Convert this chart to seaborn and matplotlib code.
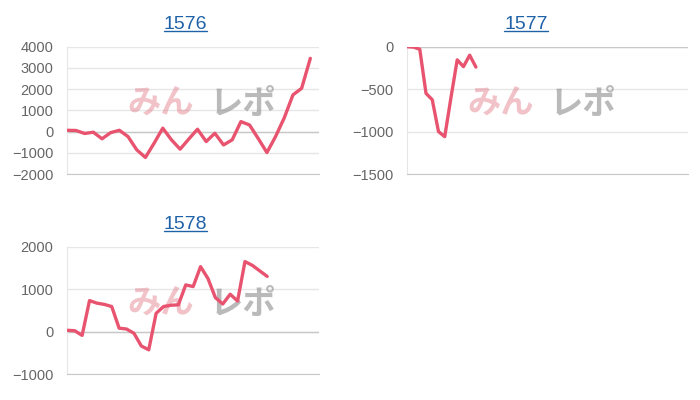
"""Three small profit-curve panels (1576 / 1577 / 1578) with a faint site watermark."""
import matplotlib
matplotlib.use("Agg")  # no display
import matplotlib.pyplot as plt
from matplotlib.lines import Line2D
import pandas as pd
import seaborn as sns

# ── data ────────────────────────────────────────────────────────────────────
TITLES = ["1576", "1577", "1578"]

VALUES_1576 = [60, 50, -90, -30, -340, -50, 60, -240, -860, -1220,
               -550, 160, -390, -830, -350, 110, -470, -80, -630, -390,
               470, 310, -330, -990, -230, 650, 1730, 2040, 3450]
VALUES_1577 = [0, -5, -30, -550, -625, -1000, -1060, -600, -155, -235, -100, -240]
VALUES_1578 = [30, 20, -90, 730, 670, 640, 590, 80, 60, -40,
               -340, -430, 430, 590, 620, 630, 1100, 1060, 1530, 1250,
               800, 650, 880, 720, 1650, 1560, 1430, 1300]

SERIES = [VALUES_1576, VALUES_1577, VALUES_1578]
X_SLOTS = [29, 45, 34]  # width of each category axis (number of x intervals)
Y_LIMITS = [(-2000, 4000), (-1500, 0), (-1000, 2000)]
Y_STEPS = [1000, 500, 1000]

# ── style ───────────────────────────────────────────────────────────────────
W, H = 700, 400
LINE_COLOR = "#e8546f"
GRID_COLOR = "#e6e6e6"
ZERO_COLOR = "#c8c8c8"
TICK_COLOR = "#666666"
TITLE_COLOR = "#1f62a8"

# axes boxes in pixels: left, top, right, bottom
BOXES = [(67.3, 46.7, 319.0, 174.0),
         (407.3, 46.7, 688.0, 174.0),
         (67.3, 246.7, 319.0, 374.0)]
CELL_ORIGINS = [(0, 0), (340, 0), (0, 200)]

sns.set_style("white")
plt.rcParams["font.family"] = ["Liberation Sans", "DejaVu Sans"]

fig = plt.figure(figsize=(W / 100, H / 100), dpi=100)

titles = []
for values, title, slots, (lo, hi), step, box, (cx, cy) in zip(
        SERIES, TITLES, X_SLOTS, Y_LIMITS, Y_STEPS, BOXES, CELL_ORIGINS):
    l, t, r, b = box
    ax = fig.add_axes([l / W, 1 - b / H, (r - l) / W, (b - t) / H])

    df = pd.DataFrame({"idx": range(len(values)), "value": values})
    sns.lineplot(data=df, x="idx", y="value", ax=ax, color=LINE_COLOR,
                 linewidth=2.4, zorder=3)

    ax.set_xlim(0, slots)
    ax.set_ylim(lo, hi)
    ax.set_yticks(range(lo, hi + 1, step))
    ax.set_xticks([])
    ax.set_xlabel("")
    ax.set_ylabel("")
    ax.grid(axis="y", color=GRID_COLOR, linewidth=1)
    ax.axhline(0, color=ZERO_COLOR, linewidth=1, zorder=2)
    ax.tick_params(axis="y", length=0, pad=10, labelsize=10.5, labelcolor=TICK_COLOR)
    for side in ("top", "right"):
        ax.spines[side].set_visible(False)
    ax.spines["left"].set_color(GRID_COLOR)
    ax.spines["bottom"].set_color(ZERO_COLOR)

    # watermark: pink "みん" + grey "レポ"
    ax.text((cx + 161) / W, 1 - (cy + 104) / H, "みん", transform=fig.transFigure,
            ha="center", va="center", fontsize=24, fontweight="bold",
            family=["Noto Sans CJK JP", "DejaVu Sans"], color="#e07a88",
            alpha=0.45, zorder=1, clip_on=False)
    ax.text((cx + 243) / W, 1 - (cy + 104) / H, "レポ", transform=fig.transFigure,
            ha="center", va="center", fontsize=24, fontweight="bold",
            family=["Noto Sans CJK JP", "DejaVu Sans"], color="#8c8c8c",
            alpha=0.6, zorder=1, clip_on=False)

    tx = cx + (185.5 if cx == 0 else 186)
    titles.append(fig.text(tx / W, 1 - (cy + 24.5) / H, title, ha="center",
                           va="center", fontsize=14, color=TITLE_COLOR))

# underline the titles (they are links in the source page)
fig.canvas.draw()
for t in titles:
    bb = t.get_window_extent()
    y = bb.y0 + 2.5
    fig.add_artist(Line2D([bb.x0 / W, bb.x1 / W], [y / H, y / H],
                          transform=fig.transFigure, color=TITLE_COLOR, linewidth=1))

fig.savefig("out.png", dpi=100)
plt.close(fig)
